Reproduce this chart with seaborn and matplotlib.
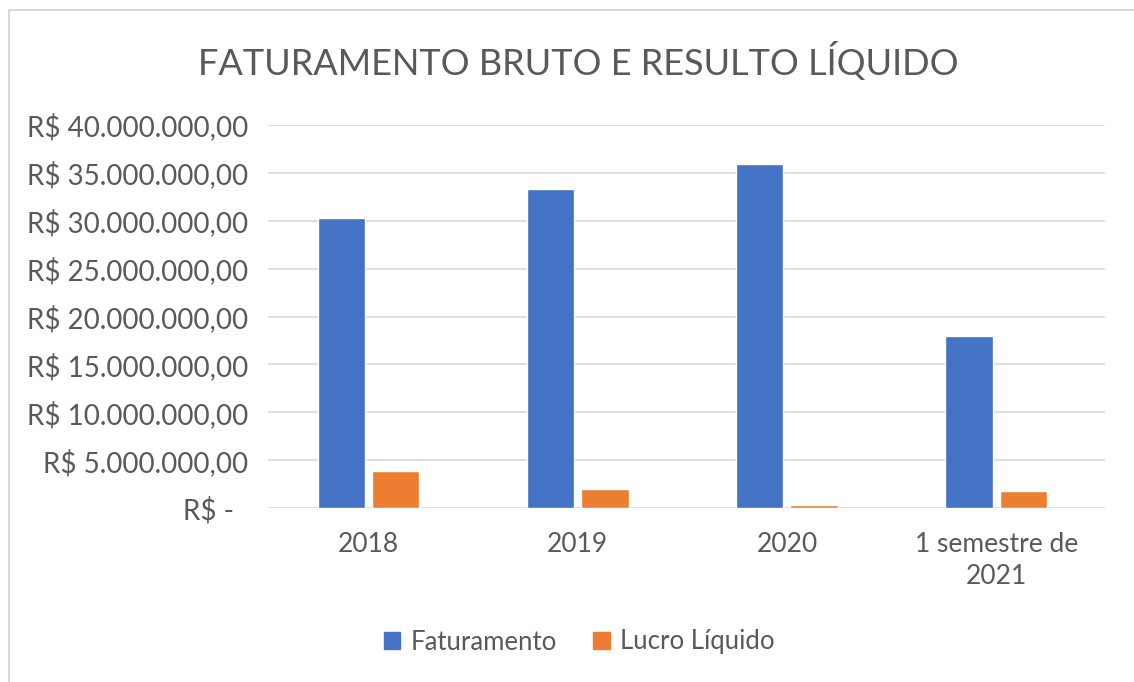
import matplotlib
matplotlib.use("Agg")
import matplotlib.pyplot as plt
import seaborn as sns
import pandas as pd
from matplotlib.lines import Line2D
from matplotlib.patches import Patch

categories = ["2018", "2019", "2020", "1 semestre de\n2021"]
faturamento = [30_280_000, 33_340_000, 35_880_000, 17_970_000]
lucro_liquido = [3_830_000, 1_990_000, 300_000, 1_810_000]
series_names = ["Faturamento", "Lucro Líquido"]
yticks = [0, 5e6, 10e6, 15e6, 20e6, 25e6, 30e6, 35e6, 40e6]
ytick_labels = ["R$ -  ", "R$ 5.000.000,00", "R$ 10.000.000,00", "R$ 15.000.000,00",
                "R$ 20.000.000,00", "R$ 25.000.000,00", "R$ 30.000.000,00",
                "R$ 35.000.000,00", "R$ 40.000.000,00"]
title = "FATURAMENTO BRUTO E RESULTO LÍQUIDO"
colors = ["#4472C4", "#ED7D31"]

df = pd.DataFrame({
    "cat": categories * 2,
    "val": faturamento + lucro_liquido,
    "serie": [series_names[0]] * 4 + [series_names[1]] * 4,
})

sns.set_theme(style="white")
plt.rcParams["font.family"] = ["Lato", "DejaVu Sans"]
text_color = "#595959"

fig = plt.figure(figsize=(11.34, 6.82), dpi=100)
ax = fig.add_axes([268 / 1134, 1 - 508 / 682, (1105 - 268) / 1134, (508 - 125) / 682])

sns.barplot(data=df, x="cat", y="val", hue="serie", palette=colors, ax=ax,
            width=0.52, gap=0.13, legend=False, saturation=1)

ax.set_ylim(0, 40e6)
ax.set_yticks(yticks)
ax.set_yticklabels(ytick_labels)
ax.set_xlim(-0.48, 3.52)
ax.set_xlabel("")
ax.set_ylabel("")
for s in ax.spines.values():
    s.set_visible(False)
ax.yaxis.grid(True, color="#D9D9D9", linewidth=1.2)
ax.set_axisbelow(True)
ax.tick_params(axis="both", length=0, labelsize=19, colors=text_color)
ax.tick_params(axis="y", pad=14, labelsize=20)
ax.tick_params(axis="x", pad=17)
for lbl in ax.get_xticklabels():
    lbl.set_linespacing(1.35)

fig.text(578 / 1134, 1 - 62 / 682, title, ha="center", va="center",
         fontsize=26, color=text_color)

handles = [Patch(facecolor=c, edgecolor=c) for c in colors]
fig.legend(handles, series_names, loc="center", bbox_to_anchor=(579 / 1134, 1 - 642 / 682),
           ncol=2, frameon=False, fontsize=18.5, labelcolor=text_color,
           handlelength=0.65, handleheight=0.65, handletextpad=0.4, columnspacing=1.4)

# chart frame (top and left edges)
fig.add_artist(Line2D([9 / 1134, 9 / 1134], [0, 1 - 10 / 682], transform=fig.transFigure,
                      color="#D9D9D9", linewidth=1.5))
fig.add_artist(Line2D([9 / 1134, 1], [1 - 10 / 682, 1 - 10 / 682], transform=fig.transFigure,
                      color="#D9D9D9", linewidth=1.5))

fig.savefig("out.png", dpi=100)
